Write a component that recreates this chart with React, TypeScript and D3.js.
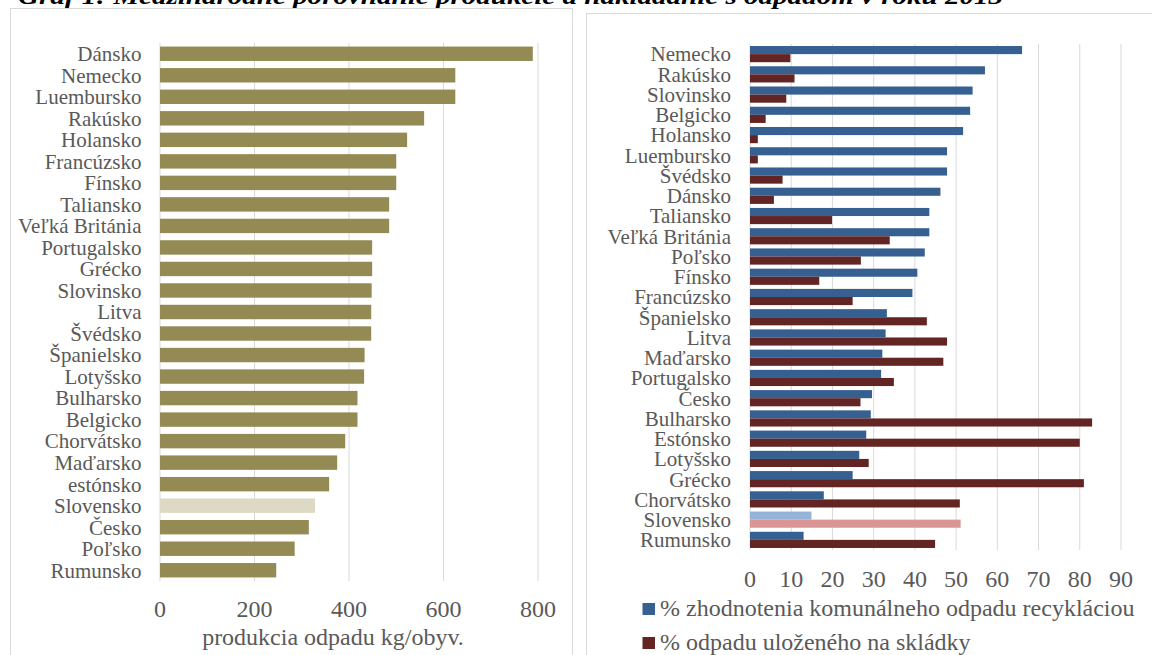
import * as d3 from "d3";

// left chart: waste production kg per inhabitant
const prodCountries = [
  "Dánsko", "Nemecko", "Luembursko", "Rakúsko", "Holansko", "Francúzsko", "Fínsko",
  "Taliansko", "Veľká Británia", "Portugalsko", "Grécko", "Slovinsko", "Litva", "Švédsko",
  "Španielsko", "Lotyšsko", "Bulharsko", "Belgicko", "Chorvátsko", "Maďarsko", "estónsko",
  "Slovensko", "Česko", "Poľsko", "Rumunsko",
];
const prodValues = [
  789, 625, 625, 559, 523, 500, 500, 485, 485, 449, 449, 448, 447, 447,
  433, 432, 418, 418, 392, 375, 358, 328, 315, 285, 246,
];
const prodTicks = [0, 200, 400, 600, 800];

// right chart: recycling vs landfill, %
const shareCountries = [
  "Nemecko", "Rakúsko", "Slovinsko", "Belgicko", "Holansko", "Luembursko", "Švédsko",
  "Dánsko", "Taliansko", "Veľká Británia", "Poľsko", "Fínsko", "Francúzsko", "Španielsko",
  "Litva", "Maďarsko", "Portugalsko", "Česko", "Bulharsko", "Estónsko", "Lotyšsko",
  "Grécko", "Chorvátsko", "Slovensko", "Rumunsko",
];
const recycled = [
  66, 57, 54, 53.4, 51.7, 47.8, 47.8, 46.2, 43.5, 43.5, 42.4, 40.6, 39.4, 33.2,
  32.9, 32.1, 31.8, 29.6, 29.3, 28.2, 26.5, 24.9, 17.9, 14.9, 13,
];
const landfilled = [
  9.8, 10.8, 8.8, 3.8, 1.9, 1.9, 7.9, 5.8, 19.9, 33.9, 26.9, 16.8, 24.9, 42.9,
  47.8, 46.9, 34.9, 26.8, 83, 80, 28.8, 81, 50.9, 51.1, 44.9,
];
const shareTicks = [0, 10, 20, 30, 40, 50, 60, 70, 80, 90];
const seriesNames = [
  "% zhodnotenia komunálneho odpadu recykláciou",
  "% odpadu uloženého na skládky",
];

const FONT = "'Liberation Serif', 'Times New Roman', serif";
const TXT = "#595959";
const GRID = "#d9d9d9";
const HIGHLIGHT = "Slovensko";

export default function App() {
  const xL = d3.scaleLinear().domain([0, 800]).range([160, 538]);
  const yL = d3
    .scaleBand<string>()
    .domain(prodCountries)
    .range([43, 581])
    .paddingInner(0.33)
    .paddingOuter(0.165);

  const xR = d3.scaleLinear().domain([0, 90]).range([750, 1121]);
  const yR = d3
    .scaleBand<string>()
    .domain(shareCountries)
    .range([44, 550])
    .paddingInner(0.2)
    .paddingOuter(0.1);
  const sub = d3
    .scaleBand<number>()
    .domain([0, 1])
    .range([0, yR.bandwidth()]);

  const blue = (c: string) => (c === HIGHLIGHT ? "#95b3d7" : "#376092");
  const red = (c: string) => (c === HIGHLIGHT ? "#d99694" : "#632523");

  return (
    <svg
      width={1152}
      height={655}
      style={{ position: "absolute", left: 0, top: 0, background: "#fff" }}
      fontFamily={FONT}
    >
      <rect width={1152} height={655} fill="#fff" />
      <text
        x={18}
        y={4}
        fontSize={24}
        fontWeight="bold"
        fontStyle="italic"
        fill="#000"
        textLength={985}
        lengthAdjust="spacingAndGlyphs"
      >
        Graf 1: Medzinárodné porovnanie produkcie a nakladanie s odpadom v roku 2013
      </text>

      {/* panels */}
      <rect x={10.5} y={8.5} width={562} height={680} fill="none" stroke={GRID} />
      <rect x={586.5} y={13.5} width={600} height={680} fill="none" stroke={GRID} />

      {/* left chart */}
      <g>
        {prodTicks.map((t) => (
          <g key={t}>
            <line x1={xL(t)} x2={xL(t)} y1={43} y2={581} stroke={GRID} />
            <text x={xL(t)} y={617} fontSize={24} fill={TXT} textAnchor="middle">
              {t}
            </text>
          </g>
        ))}
        {prodCountries.map((c, i) => (
          <g key={c}>
            <rect
              x={xL(0)}
              y={yL(c)}
              width={xL(prodValues[i]) - xL(0)}
              height={yL.bandwidth()}
              fill={c === HIGHLIGHT ? "#ddd9c4" : "#948a54"}
            />
            <text
              x={141.5}
              y={(yL(c) ?? 0) + yL.bandwidth() / 2}
              dy="0.35em"
              fontSize={21}
              fill={TXT}
              textAnchor="end"
            >
              {c}
            </text>
          </g>
        ))}
        <text x={333} y={645} fontSize={24} fill={TXT} textAnchor="middle">
          produkcia odpadu kg/obyv.
        </text>
      </g>

      {/* right chart */}
      <g>
        {shareTicks.map((t) => (
          <g key={t}>
            <line x1={xR(t)} x2={xR(t)} y1={44} y2={550} stroke={GRID} />
            <text x={xR(t)} y={587} fontSize={24} fill={TXT} textAnchor="middle">
              {t}
            </text>
          </g>
        ))}
        {shareCountries.map((c, i) => {
          const y0 = yR(c) ?? 0;
          return (
            <g key={c}>
              <rect
                x={xR(0)}
                y={y0 + (sub(0) ?? 0)}
                width={xR(recycled[i]) - xR(0)}
                height={sub.bandwidth()}
                fill={blue(c)}
              />
              <rect
                x={xR(0)}
                y={y0 + (sub(1) ?? 0)}
                width={xR(landfilled[i]) - xR(0)}
                height={sub.bandwidth()}
                fill={red(c)}
              />
              <text
                x={731}
                y={y0 + yR.bandwidth() / 2}
                dy="0.35em"
                fontSize={21}
                fill={TXT}
                textAnchor="end"
              >
                {c}
              </text>
            </g>
          );
        })}
        {seriesNames.map((s, i) => (
          <g key={s}>
            <rect
              x={642.5}
              y={603 + i * 34}
              width={12.5}
              height={12}
              fill={i === 0 ? "#376092" : "#632523"}
            />
            <text x={660} y={616 + i * 34} fontSize={24} fill={TXT}>
              {s}
            </text>
          </g>
        ))}
      </g>
    </svg>
  );
}
